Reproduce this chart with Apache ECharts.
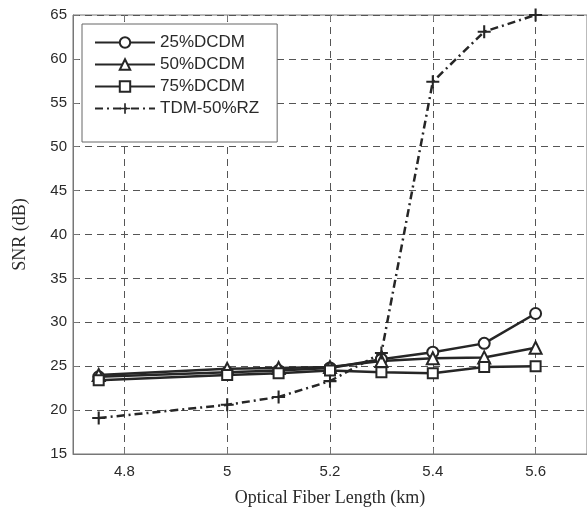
<!DOCTYPE html>
<html>
<head>
<meta charset="utf-8">
<script src="https://cdn.jsdelivr.net/npm/echarts@6/dist/echarts.min.js"></script>
<style>
  html, body { margin: 0; padding: 0; background: #fff; }
  #chart { width: 587px; height: 510px; }
</style>
</head>
<body>
<div id="chart"></div>
<script>
// 光纤长度 (km)
const lengths = [4.75, 5.0, 5.1, 5.2, 5.3, 5.4, 5.5, 5.6];
const snr25 = [23.8, 24.3, 24.5, 24.8, 25.8, 26.6, 27.6, 31.0];
const snr50 = [24.0, 24.7, 24.8, 24.9, 25.6, 25.9, 26.0, 27.1];
const snr75 = [23.4, 24.0, 24.2, 24.5, 24.3, 24.2, 24.9, 25.0];
const snrTdm = [19.1, 20.6, 21.5, 23.3, 26.5, 57.4, 63.1, 65.0];
const xTicks = [4.8, 5.0, 5.2, 5.4, 5.6];
const seriesNames = ["25%DCDM", "50%DCDM", "75%DCDM", "TDM-50%RZ"];

const toPairs = (ys) => lengths.map((x, i) => [x, ys[i]]);

const chart = echarts.init(document.getElementById("chart"), null, { renderer: "canvas" });
const ink = "#262626";
const plusPath = "path://M4.2,0h1.6v4.2h4.2v1.6h-4.2v4.2h-1.6v-4.2h-4.2v-1.6h4.2z";

const mkSeries = (name, ys, symbol, size, dash, width) => ({
  name: name,
  type: "line",
  data: toPairs(ys),
  symbol: symbol,
  symbolSize: size,
  showAllSymbol: true,
  z: 3,
  lineStyle: { color: ink, width: width, type: dash },
  itemStyle: { color: ink, borderColor: ink, borderWidth: 2 },
  emphasis: { disabled: true },
});

const option = {
  animation: false,
  backgroundColor: "#fff",
  textStyle: { fontFamily: "Liberation Sans", color: "#2a2a2a" },
  grid: {
    left: 73,
    right: 0,
    top: 15,
    bottom: 56,
    outerBoundsMode: "none",
    show: true,
    borderColor: "#777",
    borderWidth: 1,
  },
  legend: {
    orient: "vertical",
    left: 82,
    top: 24,
    data: seriesNames,
    backgroundColor: "#fff",
    borderColor: "#666",
    borderWidth: 1,
    borderRadius: 0,
    padding: [10, 18, 25, 12],
    itemWidth: 60,
    itemHeight: 13,
    itemGap: 5,
    textStyle: { fontSize: 17, color: "#2a2a2a", fontFamily: "Liberation Sans" },
  },
  xAxis: [
    {
      type: "value",
      min: 4.7,
      max: 5.7,
      interval: 0.1,
      name: "Optical Fiber Length (km)",
      nameLocation: "middle",
      nameGap: 35,
      nameTextStyle: { fontFamily: "Liberation Serif", fontSize: 18, color: "#2a2a2a" },
      axisLine: { show: true, lineStyle: { color: "#777", width: 1 } },
      axisTick: { inside: true, length: 6, customValues: xTicks, lineStyle: { color: "#777" } },
      axisLabel: {
        customValues: xTicks,
        margin: 10,
        fontSize: 15,
        color: "#2a2a2a",
        formatter: (v) => String(Math.round(v * 10) / 10),
      },
      splitLine: { show: true, lineStyle: { color: "#555", type: [7, 5], width: 1 } },
    },
    {
      type: "value",
      position: "top",
      min: 4.7,
      max: 5.7,
      interval: 0.1,
      axisLine: { show: false },
      axisTick: { inside: true, length: 6, customValues: xTicks, lineStyle: { color: "#777" } },
      axisLabel: { show: false },
      splitLine: { show: false },
    },
  ],
  yAxis: {
    type: "value",
    min: 15,
    max: 65,
    interval: 5,
    name: "SNR (dB)",
    nameLocation: "middle",
    nameGap: 44,
    nameTextStyle: { fontFamily: "Liberation Serif", fontSize: 18, color: "#2a2a2a" },
    axisLine: { show: true, lineStyle: { color: "#777", width: 1 } },
    axisTick: { show: true, inside: true, length: 6, lineStyle: { color: "#777" } },
    axisLabel: { margin: 6, fontSize: 15, color: "#2a2a2a" },
    splitLine: { show: true, lineStyle: { color: "#555", type: [7, 5], width: 1 } },
  },
  series: [
    mkSeries(seriesNames[0], snr25, "emptyCircle", 11, "solid", 2.5),
    mkSeries(seriesNames[1], snr50, "emptyTriangle", 12, "solid", 2.5),
    mkSeries(seriesNames[2], snr75, "emptyRect", 10, "solid", 2.5),
    Object.assign(mkSeries(seriesNames[3], snrTdm, plusPath, 13, [8, 4, 2, 4], 2.5), {
      itemStyle: { color: ink, borderWidth: 0 },
      z: 4,
    }),
  ],
};

chart.setOption(option);
window.addEventListener("resize", () => {
  chart.resize();
});
</script>
</body>
</html>
